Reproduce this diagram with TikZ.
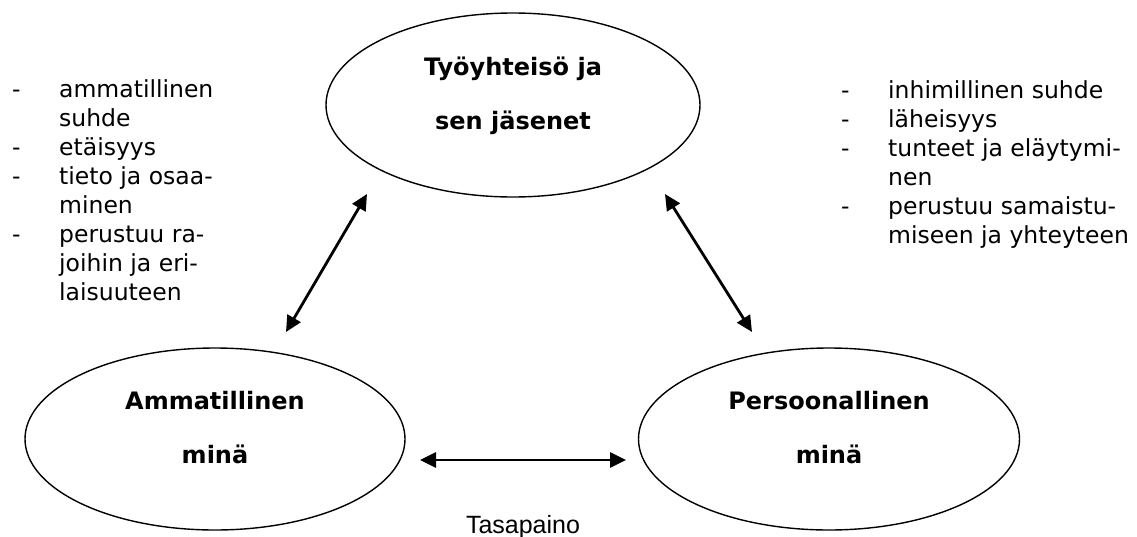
\documentclass[tikz,border=0pt]{standalone}
\usepackage{fontspec}
\setmainfont{DejaVu Sans}
\newfontfamily\tasafont{Liberation Sans}
\usetikzlibrary{shapes.geometric,arrows.meta}

\begin{document}
\begin{tikzpicture}[x=1pt,y=-1pt,
  kupla/.style={draw,ellipse,line width=1.4pt,inner sep=0pt},
  otsikko/.style={font=\fontsize{24}{54}\selectfont\bfseries,align=center,inner sep=0pt},
  lista/.style={anchor=base west,inner sep=0pt,font=\fontsize{23.5}{29}\selectfont},
  nuoli/.style={{Triangle[length=16pt,width=15pt]}-{Triangle[length=16pt,width=15pt]},line width=2.8pt}]

\useasboundingbox (0,0) rectangle (1137,536);

\node[kupla,minimum width=374pt,minimum height=184pt] (tyo) at (513,105) {};		% Tyoyhteiso
\node[kupla,minimum width=380pt,minimum height=182pt] (ammat) at (215,439) {};	% Ammatillinen mina
\node[kupla,minimum width=381pt,minimum height=182pt] (pers) at (829,439) {};		% Persoonallinen mina

\node[otsikko] (tyo-teksti) at ([yshift=9pt]tyo.center) {Työyhteisö ja\\sen jäsenet};
\node[otsikko] (ammat-teksti) at ([yshift=11pt]ammat.center) {Ammatillinen\\minä};
\node[otsikko] (pers-teksti) at ([yshift=11pt]pers.center) {Persoonallinen\\minä};

% vasen lista
\node[lista] (vasen) at (12,97) {\begin{tabular}[t]{@{}p{47pt}@{}l@{}}
-& ammatillinen\\
 & suhde\\
-& etäisyys\\
-& tieto ja osaa-\\
 & minen\\
-& perustuu ra-\\
 & joihin ja eri-\\
 & laisuuteen
\end{tabular}};

% oikea lista
\node[lista] (oikea) at (841,98) {\begin{tabular}[t]{@{}p{47pt}@{}l@{}}
-& inhimillinen suhde\\
-& läheisyys\\
-& tunteet ja eläytymi-\\
 & nen\\
-& perustuu samaistu-\\
 & miseen ja yhteyteen
\end{tabular}};

\coordinate (tyo-vas) at (367,194);
\coordinate (ammat-yl) at (286,332);
\coordinate (tyo-oik) at (665,194);
\coordinate (pers-yl) at (752,332);
\coordinate (ammat-oik) at (420,460);
\coordinate (pers-vas) at (626,460);

\draw[nuoli] (ammat-yl) -- (tyo-vas);		% ammatillinen - tyoyhteiso
\draw[nuoli] (tyo-oik) -- (pers-yl);		% tyoyhteiso - persoonallinen
\draw[nuoli] (ammat-oik) -- (pers-vas);	% tasapaino

\node[font=\tasafont\fontsize{25}{30}\selectfont,anchor=base,inner sep=0pt] (tasap) at (523,533) {Tasapaino};

\end{tikzpicture}
\end{document}
